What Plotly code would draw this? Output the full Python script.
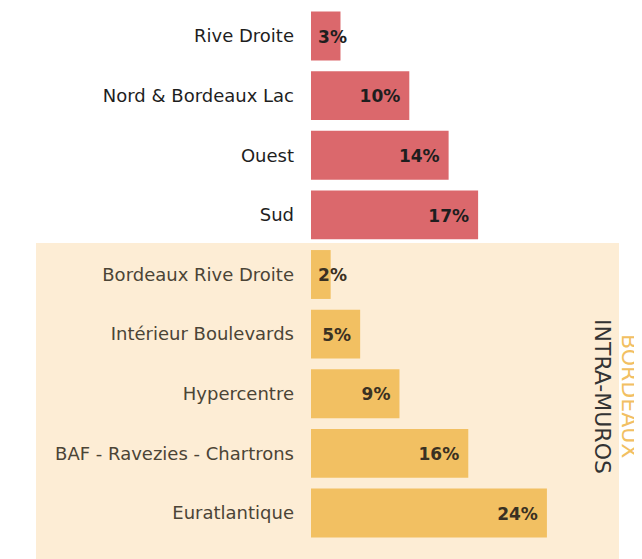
import plotly.graph_objects as go

categories = ["Rive Droite", "Nord & Bordeaux Lac", "Ouest", "Sud",
              "Bordeaux Rive Droite", "Intérieur Boulevards", "Hypercentre",
              "BAF - Ravezies - Chartrons", "Euratlantique"]
values = [3, 10, 14, 17, 2, 5, 9, 16, 24]
group = ["out", "out", "out", "out", "in", "in", "in", "in", "in"]

RED = "#DB686C"
YEL = "#F2C062"
BG = "#FDEDD5"
DARK = "#1E1E1E"
MUTED = "#4B4436"
FONT = "DejaVu Sans"

OFF = 8  # page body margin
W, H = 642 - OFF, 559 - OFF
L, R, T, B = 311 - OFF, 0, 0, 16
pw = W - L - R
ph = H - T - B
xmax = pw / 9.83
STEP = 59.625
y_top = -(36 - OFF) / STEP
y_bot = (len(categories) - 1) + (543 - 513) / STEP

def px2x(p):
    return (p - OFF - L) / pw

def py2y(p):
    return 1 - (p - OFF - T) / ph

ypos = list(range(len(categories)))
colors = [RED if g == "out" else YEL for g in group]

fig = go.Figure()
fig.add_trace(go.Bar(
    y=ypos, x=values, orientation="h", marker=dict(color=colors, line=dict(width=0)),
    width=0.82, hoverinfo="skip"))

lab_x, lab_pos, lab_col = [], [], []
for v, g in zip(values, group):
    if v < 4.5:
        lab_x.append(0.72)
        lab_pos.append("middle right")
    else:
        lab_x.append(v - 0.92)
        lab_pos.append("middle left")
    lab_col.append(DARK if g == "out" else "#3A3122")
fig.add_trace(go.Scatter(
    y=[p + 0.04 for p in ypos], x=lab_x, mode="text", text=[f"<b>{v}%</b>" for v in values],
    textposition=lab_pos, textfont=dict(size=17, color=lab_col, family=FONT),
    hoverinfo="skip"))

ticktext = [c if g == "out" else f'<span style="color:{MUTED}">{c}</span>'
            for c, g in zip(categories, group)]

fig.update_layout(
    width=W, height=H, margin=dict(l=L, r=R, t=T, b=B),
    paper_bgcolor="white", plot_bgcolor="rgba(0,0,0,0)",
    showlegend=False, font=dict(family=FONT, size=18, color=DARK),
    xaxis=dict(range=[0, xmax], visible=False),
    yaxis=dict(range=[y_bot, y_top], tickvals=ypos, ticktext=ticktext,
               showgrid=False, zeroline=False, showline=False, ticks="",
               ticklabelstandoff=16, tickfont=dict(size=18, color=DARK, family=FONT)),
    shapes=[dict(type="rect", xref="paper", yref="paper", layer="below",
                 x0=px2x(36), x1=px2x(619), y0=py2y(565), y1=py2y(243),
                 fillcolor=BG, line=dict(width=0))],
    annotations=[
        dict(xref="paper", yref="paper", x=px2x(603), y=py2y(396), text="INTRA-MUROS",
             textangle=90, showarrow=False, font=dict(size=22, color="#333333", family=FONT),
             xanchor="center", yanchor="middle"),
        dict(xref="paper", yref="paper", x=px2x(630), y=py2y(396), text="BORDEAUX",
             textangle=90, showarrow=False, font=dict(size=22, color=YEL, family=FONT),
             xanchor="center", yanchor="middle"),
    ],
)

fig.write_html("out.html")
